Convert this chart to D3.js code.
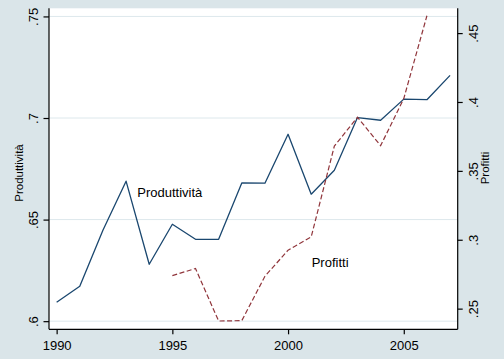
<!DOCTYPE html>
<html><head><meta charset="utf-8">
<script src="https://cdn.jsdelivr.net/npm/d3@7"></script>
<style>
body{margin:0;background:#dae5e9;}
svg{display:block;}
text{font-family:"Liberation Sans",Arial,sans-serif;fill:#000;}
</style></head>
<body><svg id="c" width="504" height="359"></svg>
<script>
const years = [1990,1991,1992,1993,1994,1995,1996,1997,1998,1999,2000,2001,2002,2003,2004,2005,2006,2007];
const produttivita = [.6093,.6172,.6448,.6689,.6280,.6477,.6403,.6403,.6680,.6679,.6920,.6625,.6743,.7002,.6989,.7093,.7090,.7210];
const profittiYears = [1995,1996,1997,1998,1999,2000,2001,2002,2003,2004,2005,2006];
const profitti = [.2740,.2791,.2410,.2413,.2735,.2924,.3021,.3680,.3889,.3683,.4025,.4626];
const xTicks = [1990,1995,2000,2005];
const xTickLabels = ["1990","1995","2000","2005"];
const leftTicks = [.6,.65,.7,.75];
const leftTickLabels = [".6",".65",".7",".75"];
const rightTicks = [.25,.3,.35,.4,.45];
const rightTickLabels = [".25",".3",".35",".4",".45"];

const svg = d3.select("#c");
const L = 49, R = 457.7, T = 8.3, B = 329.3;
const x = d3.scaleLinear().domain([1989.67, 2007.33]).range([L, R]);
const yL = d3.scaleLinear().domain([.596, .754]).range([B, T]);
const yR = d3.scaleLinear().domain([.235, .468]).range([B, T]);

svg.append("rect").attr("width",504).attr("height",359).attr("fill","#dae5e9");
svg.append("rect").attr("x",L).attr("y",T).attr("width",R-L).attr("height",B-T).attr("fill","#fff");

// gridlines
svg.append("g").selectAll("line").data(leftTicks).join("line")
  .attr("x1",L).attr("x2",R).attr("y1",d=>yL(d)).attr("y2",d=>yL(d))
  .attr("stroke","#dde8ec").attr("stroke-width",1);

const lineP = d3.line().x((d,i)=>x(years[i])).y(d=>yL(d));
svg.append("path").datum(produttivita).attr("d",lineP)
  .attr("fill","none").attr("stroke","#1a476f").attr("stroke-width",1.3).attr("stroke-linejoin","round");

const lineR = d3.line().x((d,i)=>x(profittiYears[i])).y(d=>yR(d));
svg.append("path").datum(profitti).attr("d",lineR)
  .attr("fill","none").attr("stroke","#90353b").attr("stroke-width",1.2).attr("stroke-dasharray","5,2.5");

// axes
const ax = svg.append("g").attr("transform",`translate(0,${B})`)
  .call(d3.axisBottom(x).tickValues(xTicks).tickFormat((d,i)=>xTickLabels[i]).tickSize(5).tickSizeOuter(0));
ax.selectAll("text").attr("y",0).attr("dy",0).attr("transform","translate(0,20.7)");

const al = svg.append("g").attr("transform",`translate(${L},0)`)
  .call(d3.axisLeft(yL).tickValues(leftTicks).tickFormat((d,i)=>leftTickLabels[i]).tickSize(5.5).tickSizeOuter(0));
al.selectAll("text").attr("x",0).attr("dy",0).attr("text-anchor","middle").attr("transform","translate(-11.5,0) rotate(-90)");

const ar = svg.append("g").attr("transform",`translate(${R},0)`)
  .call(d3.axisRight(yR).tickValues(rightTicks).tickFormat((d,i)=>rightTickLabels[i]).tickSize(5).tickSizeOuter(0));
ar.selectAll("text").attr("x",0).attr("dy",0).attr("text-anchor","middle").attr("transform","translate(20.3,0) rotate(-90)");

[ax,al,ar].forEach(g=>{
  g.select(".domain").attr("stroke","#000").attr("stroke-width",1.2);
  g.selectAll(".tick line").attr("stroke","#000").attr("stroke-width",1.2);
  g.selectAll("text").attr("font-size","13px").attr("font-family","Liberation Sans, Arial, sans-serif").attr("fill","#000");
});
ax.select(".domain").attr("d",`M${L},0H${R}`);
al.select(".domain").attr("d",`M0,${T}V${B}`);
ar.select(".domain").attr("d",`M0,${T}V${B}`);

// titles
svg.append("text").attr("transform","translate(23.3,173) rotate(-90)").attr("text-anchor","middle")
  .attr("font-size","11.5px").text("Produttività");
svg.append("text").attr("transform","translate(489.3,168) rotate(-90)").attr("text-anchor","middle")
  .attr("font-size","11.5px").text("Profitti");

// inline labels
svg.append("text").attr("x",137.3).attr("y",196.5).attr("font-size","13px").text("Produttività");
svg.append("text").attr("x",311.7).attr("y",266.5).attr("font-size","13px").text("Profitti");
</script></body></html>
